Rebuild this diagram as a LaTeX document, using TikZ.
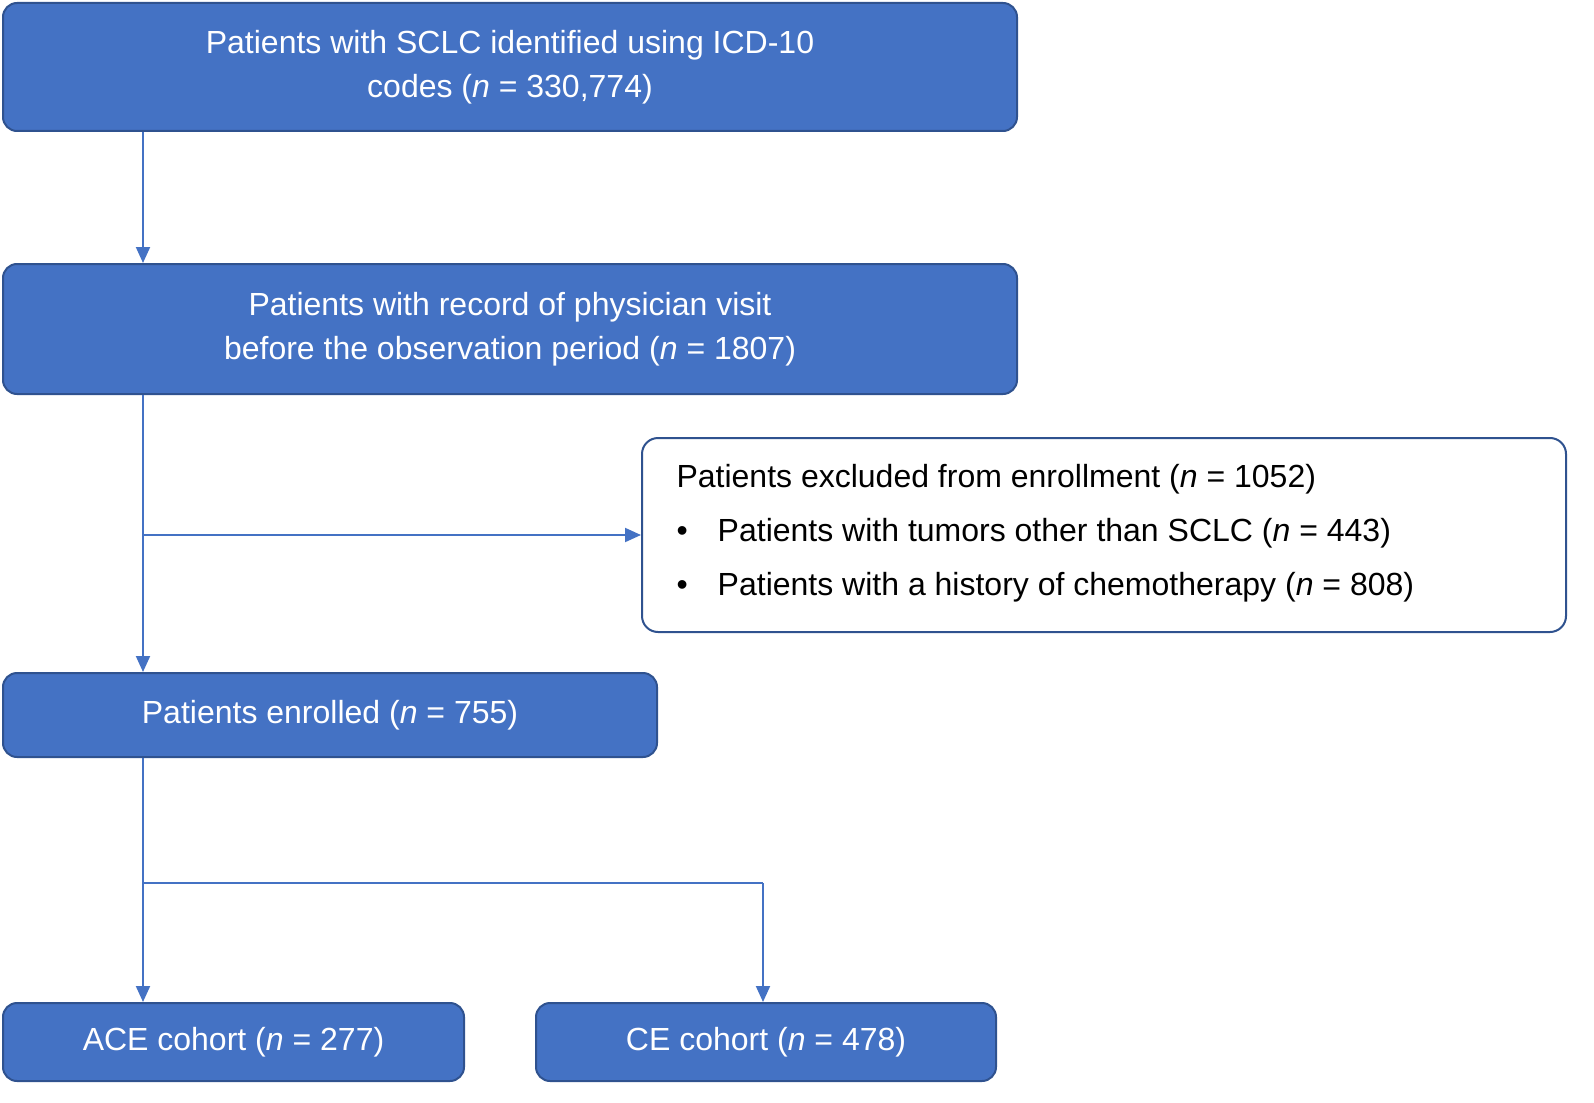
\documentclass[tikz,border=0pt]{standalone}
\usepackage{fontspec}
\setmainfont{Liberation Sans}
\usetikzlibrary{arrows.meta}
\definecolor{bfill}{HTML}{4472C4}
\definecolor{bline}{HTML}{2F528F}
\begin{document}
\begin{tikzpicture}[x=1pt,y=-1pt,
  bluebox/.style={draw=bline,line width=2pt,fill=bfill,rounded corners=14pt,text=white,font=\fontsize{32}{44}\selectfont,align=center,inner sep=0pt},
  conn/.style={draw=bfill,line width=2pt,-{Triangle[length=16pt,width=14pt]}},
  plain/.style={draw=bfill,line width=2pt}]
\useasboundingbox (0,0) rectangle (1594,1102);
\node[bluebox,minimum width=1014pt,minimum height=128pt] (a) at (510,67) {Patients with SCLC identified using ICD-10\\codes (\textit{n} = 330,774)};
\node[bluebox,minimum width=1014pt,minimum height=130pt] (b) at (510,329) {Patients with record of physician visit\\before the observation period (\textit{n} = 1807)};
\node[draw=bline,line width=2pt,fill=white,rounded corners=16pt,minimum width=924pt,minimum height=194pt,inner sep=0pt] (x) at (1104,535) {};
\node[anchor=west,font=\fontsize{32}{44}\selectfont] (x1) at (673,479) {Patients excluded from enrollment (\textit{n} = 1052)};
\node[anchor=west,font=\fontsize{32}{44}\selectfont] (x2) at (673,533) {•\hspace{30pt}Patients with tumors other than SCLC (\textit{n} = 443)};
\node[anchor=west,font=\fontsize{32}{44}\selectfont] (x3) at (673,587) {•\hspace{30pt}Patients with a history of chemotherapy (\textit{n} = 808)};
\node[bluebox,minimum width=654pt,minimum height=84pt] (c) at (330,715) {Patients enrolled (\textit{n} = 755)};
\node[bluebox,minimum width=461pt,minimum height=78pt] (d) at (233.5,1042) {ACE cohort (\textit{n} = 277)};
\node[bluebox,minimum width=460pt,minimum height=78pt] (e) at (766,1042) {CE cohort (\textit{n} = 478)};
\coordinate (j1) at (143,535);
\coordinate (j2) at (143,883);
\coordinate (j3) at (763,883);
\draw[conn] (a.south -| 143,0) -- (b.north -| 143,0);
\draw[conn] (b.south -| 143,0) -- (c.north -| 143,0);
\draw[conn] (j1) -- (x.west);
\draw[conn] (c.south -| 143,0) -- (d.north -| 143,0);
\draw[plain] (j2) -- (j3);
\draw[conn] (j3) -- (e.north -| j3);
\end{tikzpicture}
\end{document}
